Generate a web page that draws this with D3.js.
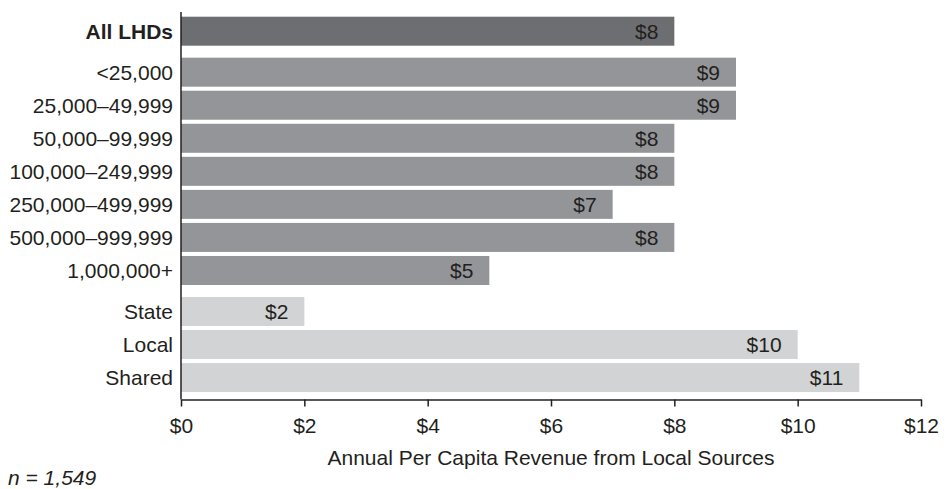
<!DOCTYPE html>
<html>
<head>
<meta charset="utf-8">
<script src="https://cdn.jsdelivr.net/npm/d3@7"></script>
<style>
  html, body { margin: 0; padding: 0; background: #fff; }
  svg { display: block; }
  text { font-family: "Liberation Sans", Arial, Helvetica, sans-serif; fill: #231f20; }
</style>
</head>
<body>
<svg id="chart" width="951" height="489"></svg>
<script>
const categories = ["All LHDs", "<25,000", "25,000–49,999", "50,000–99,999", "100,000–249,999",
  "250,000–499,999", "500,000–999,999", "1,000,000+", "State", "Local", "Shared"];
const values = [8, 9, 9, 8, 8, 7, 8, 5, 2, 10, 11];
const groups = ["all", "size", "size", "size", "size", "size", "size", "size", "gov", "gov", "gov"];
const xTicks = [0, 2, 4, 6, 8, 10, 12];
const xTitle = "Annual Per Capita Revenue from Local Sources";
const note = "n = 1,549";

(function () {
const groupOrder = ["all", "size", "gov"];
const colors = { all: "#6d6e71", size: "#939598", gov: "#d1d3d4" };

const svg = d3.select("#chart");
const mLeft = 181, mRight = 921, barTop = 16.7, plotTop = 12, axisY = 399.5;
const pitch = 33.05, barH = 29, gapSlots = 0.24;

const x = d3.scaleLinear().domain([0, 12]).range([mLeft, mRight]);

const slot = categories.map((c, i) => i + gapSlots * groupOrder.indexOf(groups[i]));
const y = d3.scaleLinear().domain([0, 1]).range([barTop, barTop + pitch]);

const data = categories.map((c, i) => ({ cat: c, value: values[i], group: groups[i], s: slot[i] }));

const fs = 21;

svg.append("g").selectAll("rect").data(data).join("rect")
  .attr("x", x(0))
  .attr("y", d => y(d.s))
  .attr("width", d => x(d.value) - x(0))
  .attr("height", barH)
  .attr("fill", d => colors[d.group]);

svg.append("g").selectAll("text").data(data).join("text")
  .attr("x", d => x(d.value) - 16)
  .attr("y", d => y(d.s) + barH / 2 + 7.5)
  .attr("text-anchor", "end")
  .attr("font-size", fs)
  .text(d => "$" + d.value);

svg.append("g").selectAll("text").data(data).join("text")
  .attr("x", 173)
  .attr("y", d => y(d.s) + barH / 2 + 7.5)
  .attr("text-anchor", "end")
  .attr("font-size", fs)
  .attr("font-weight", d => d.group === "all" ? "bold" : "normal")
  .text(d => d.cat);

svg.append("line")
  .attr("x1", mLeft).attr("x2", mLeft)
  .attr("y1", plotTop).attr("y2", axisY)
  .attr("stroke", "#231f20").attr("stroke-width", 1.5);

const xAxis = d3.axisBottom(x)
  .tickValues(xTicks)
  .tickSize(7)
  .tickSizeOuter(0)
  .tickPadding(12)
  .tickFormat(d => "$" + d);

const gx = svg.append("g")
  .attr("transform", `translate(0,${axisY})`)
  .call(xAxis);
gx.select(".domain").attr("stroke", "#231f20").attr("stroke-width", 1.5);
gx.selectAll(".tick line").attr("stroke", "#231f20").attr("stroke-width", 1.5);
gx.selectAll(".tick text")
  .attr("font-size", fs)
  .attr("font-family", "'Liberation Sans', Arial, Helvetica, sans-serif")
  .attr("fill", "#231f20");

svg.append("text")
  .attr("x", (mLeft + mRight) / 2)
  .attr("y", 465)
  .attr("text-anchor", "middle")
  .attr("font-size", fs)
  .text(xTitle);

svg.append("text")
  .attr("x", 8)
  .attr("y", 485)
  .attr("font-size", fs)
  .attr("font-style", "italic")
  .text(note);
})();
</script>
</body>
</html>
